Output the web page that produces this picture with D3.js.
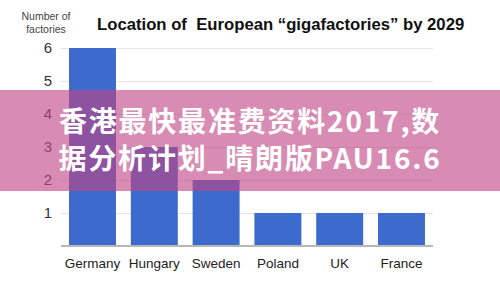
<!DOCTYPE html>
<html>
<head>
<meta charset="utf-8">
<script src="https://cdn.jsdelivr.net/npm/d3@7"></script>
<style>
  body { margin: 0; background: #fff; }
  svg { display: block; font-family: "Liberation Sans", Arial, sans-serif; }
</style>
</head>
<body>
<script>
var countries = ["Germany", "Hungary", "Sweden", "Poland", "UK", "France"];
var factories = [6, 3, 2, 1, 1, 1];
var yTicks = [1, 2, 3, 4, 5, 6];
var bannerLines = ["香港最快最准费资料2017,数", "据分析计划_晴朗版PAU16.6"];

var width = 500, height = 282;

var margin = {top: 48, bottom: 36, left: 61, right: 67};

var svg = d3.select("body").append("svg")
    .attr("width", width)
    .attr("height", height);

var x = d3.scaleBand()
    .domain(countries)
    .range([margin.left, width - margin.right])
    .paddingInner(0.24)
    .paddingOuter(0.13);

// 0 at baseline, 6 at top gridline
var y = d3.scaleLinear()
    .domain([0, 6])
    .range([height - margin.bottom, margin.top]);

// gridlines + tick labels
var yAxis = svg.append("g")
    .attr("transform", "translate(" + margin.left + ",0)")
    .call(d3.axisLeft(y).tickValues(yTicks)
        .tickFormat(d3.format("d"))
        .tickSize(-(width - margin.left - margin.right))
        .tickPadding(9));
yAxis.select(".domain").remove();
yAxis.selectAll(".tick line").attr("stroke", "#e4e4e4").attr("stroke-width", 1.2);
yAxis.selectAll(".tick text")
    .attr("fill", "#333")
    .attr("font-size", "15px")
    .attr("font-family", "Liberation Sans, Arial, sans-serif");

// bars
svg.selectAll("rect.bar")
    .data(countries)
    .enter().append("rect")
    .attr("class", "bar")
    .attr("x", function(d) { return x(d); })
    .attr("width", x.bandwidth())
    .attr("y", function(d, i) { return y(factories[i]); })
    .attr("height", function(d, i) { return y(0) - y(factories[i]); })
    .attr("fill", "#3c6bcd");

// baseline
var xAxis = svg.append("g")
    .attr("transform", "translate(0," + y(0) + ")")
    .call(d3.axisBottom(x).tickSize(0).tickPadding(12));
xAxis.select(".domain").attr("stroke", "#b8b8b8").attr("stroke-width", 2)
    .attr("d", "M" + margin.left + ",0H" + (width - margin.right));
xAxis.selectAll(".tick text")
    .attr("fill", "#222")
    .attr("font-size", "13.5px")
    .attr("font-family", "Liberation Sans, Arial, sans-serif");

// y axis title
svg.append("text")
    .attr("x", 46)
    .attr("text-anchor", "middle")
    .attr("fill", "#444")
    .attr("font-size", "10.5px")
    .selectAll("tspan")
    .data(["Number of", "factories"])
    .enter().append("tspan")
    .attr("x", 46)
    .attr("y", function(d, i) { return 20 + i * 13; })
    .text(function(d) { return d; });

// chart title
svg.append("text")
    .attr("x", 97)
    .attr("y", 30)
    .attr("font-size", "16.7px")
    .attr("font-weight", "bold")
    .attr("fill", "#111")
    .style("white-space", "pre")
    .text("Location of  European \u201cgigafactories\u201d by 2029");

// pink banner over the chart
svg.append("rect")
    .attr("x", 0)
    .attr("y", 90)
    .attr("width", width)
    .attr("height", 101)
    .attr("fill", "rgb(192,69,134)")
    .attr("opacity", 0.62);

svg.append("g").selectAll("text")
    .data(bannerLines)
    .enter().append("text")
    .attr("x", 250)
    .attr("y", function(d, i) { return 132 + i * 37; })
    .attr("text-anchor", "middle")
    .attr("fill", "#fff")
    .attr("font-size", "28px")
    .attr("font-weight", "bold")
    .attr("letter-spacing", "1.8px")
    .attr("font-family", "Noto Sans CJK SC, sans-serif")
    .text(function(d) { return d; });
</script>
</body>
</html>
